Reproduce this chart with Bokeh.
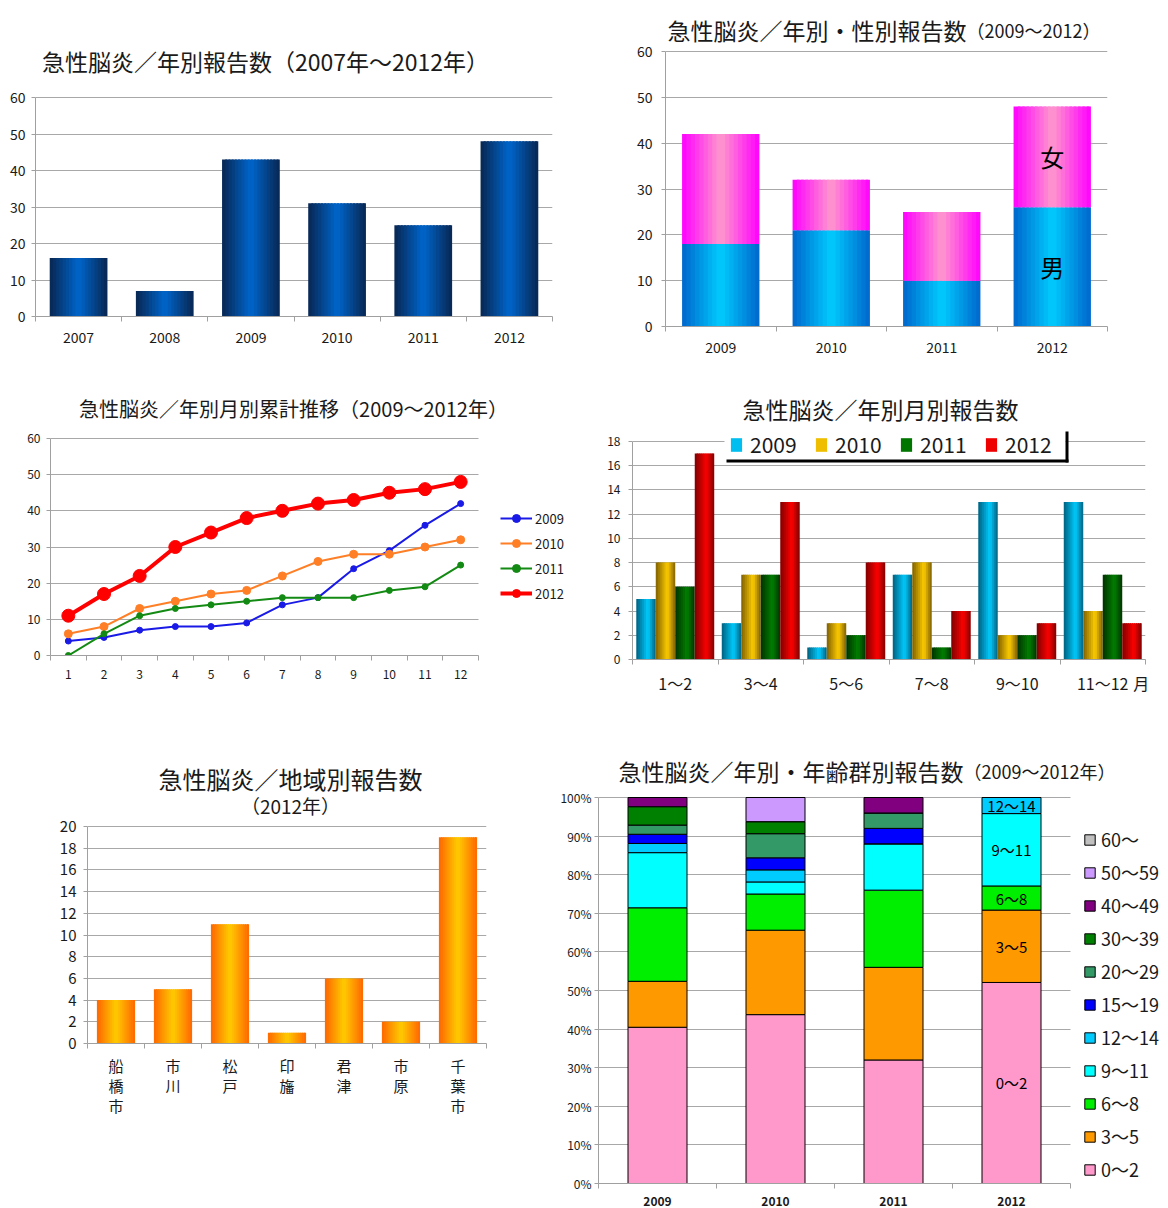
from bokeh.plotting import figure
from bokeh.models import (Range1d, FixedTicker, ColumnDataSource, Label, Legend,
                          LegendItem, BoxAnnotation, PrintfTickFormatter)
from bokeh.layouts import row, column
from bokeh.embed import file_html
from bokeh.resources import INLINE
from bokeh.core.properties import value

FONT = "Noto Sans CJK JP"
TXT = "#1a1a1a"
GRID = "#a8a8a8"
AXIS = "#a0a0a0"

# ---------------- data ----------------
annual_years = ["2007", "2008", "2009", "2010", "2011", "2012"]
annual_counts = [16, 7, 43, 31, 25, 48]

sex_years = ["2009", "2010", "2011", "2012"]
male_counts = [18, 21, 10, 26]
female_counts = [24, 11, 15, 22]

month_labels = ["1", "2", "3", "4", "5", "6", "7", "8", "9", "10", "11", "12"]
cum_2009 = [4, 5, 7, 8, 8, 9, 14, 16, 24, 29, 36, 42]
cum_2010 = [6, 8, 13, 15, 17, 18, 22, 26, 28, 28, 30, 32]
cum_2011 = [0, 6, 11, 13, 14, 15, 16, 16, 16, 18, 19, 25]
cum_2012 = [11, 17, 22, 30, 34, 38, 40, 42, 43, 45, 46, 48]

bimonth_labels = ["1～2", "3～4", "5～6", "7～8", "9～10", "11～12"]
bm_2009 = [5, 3, 1, 7, 13, 13]
bm_2010 = [8, 7, 3, 8, 2, 4]
bm_2011 = [6, 7, 2, 1, 2, 7]
bm_2012 = [17, 13, 8, 4, 3, 3]

region_labels = ["船\n橋\n市", "市\n川", "松\n戸", "印\n旛", "君\n津", "市\n原", "千\n葉\n市"]
region_counts = [4, 5, 11, 1, 6, 2, 19]

age_years = ["2009", "2010", "2011", "2012"]
age_groups = ["0～2", "3～5", "6～8", "9～11", "12～14", "15～19",
              "20～29", "30～39", "40～49", "50～59", "60～"]
age_2009 = [17, 5, 8, 6, 1, 1, 1, 2, 1, 0, 0]
age_2010 = [14, 7, 3, 1, 1, 1, 2, 1, 0, 2, 0]
age_2011 = [8, 6, 5, 3, 0, 1, 1, 0, 1, 0, 0]
age_2012 = [25, 9, 3, 9, 2, 0, 0, 0, 0, 0, 0]
age_colors = ["#ff99cc", "#ff9900", "#00ee00", "#00ffff", "#00ccff", "#0000ff",
              "#339966", "#008000", "#800080", "#cc99ff", "#c0c0c0"]


# ---------------- helpers ----------------
def hex_rgb(h):
    h = h.lstrip("#")
    return tuple(int(h[i:i + 2], 16) for i in (0, 2, 4))


def mix(a, b, t):
    ra, rb = hex_rgb(a), hex_rgb(b)
    return "#%02x%02x%02x" % tuple(round(ra[i] + (rb[i] - ra[i]) * t) for i in range(3))


class Frame:
    """Pixel frame of a figure plus a linear pixel<->data mapping."""
    def __init__(self, px0, px1, pyt, pyb, xmap, ymap):
        self.px0, self.px1, self.pyt, self.pyb = px0, px1, pyt, pyb
        d0, q0, d1, q1 = xmap
        self.xd, self.xp, self.kx = d0, q0, (d1 - d0) / (q1 - q0)
        d0, q0, d1, q1 = ymap
        self.yd, self.yp, self.ky = d0, q0, (d1 - d0) / (q1 - q0)
        self.xr = (self.x(px0), self.x(px1))
        self.yr = (self.y(pyb), self.y(pyt))

    def x(self, px):
        return self.xd + (px - self.xp) * self.kx

    def y(self, py):
        return self.yd + (py - self.yp) * self.ky


def make_fig(fx, fy, w, h, fr):
    p = figure(width=w, height=h, x_range=Range1d(*fr.xr), y_range=Range1d(*fr.yr),
               title=None, output_backend="svg", toolbar_location=None,
               min_border_left=fr.px0 - fx, min_border_right=fx + w - fr.px1,
               min_border_top=fr.pyt - fy, min_border_bottom=fy + h - fr.pyb)
    if "frame_align" in p.properties():
        p.frame_align = False
    p.outline_line_color = None
    p.background_fill_color = "white"
    p.border_fill_color = "white"
    p.xgrid.visible = False
    p.ygrid.grid_line_color = GRID
    p.ygrid.grid_line_width = 1
    return p


def style_axes(p, xticks, xlabels, xfont, xstand, yticks, yfont, ystand,
               ytick_out=4, extra=None):
    xa, ya = p.xaxis[0], p.yaxis[0]
    xb = (xticks[0] - 0.5, xticks[-1] + 0.5)
    major = list(xticks) + (list(extra.keys()) if extra else [])
    xa.ticker = FixedTicker(ticks=major, minor_ticks=[t - 0.5 for t in xticks] + [xticks[-1] + 0.5])
    ov = {t: l for t, l in zip(xticks, xlabels)}
    if extra:
        ov.update(extra)
    xa.major_label_overrides = ov
    xa.bounds = xb
    xa.major_tick_out = 0
    xa.major_tick_in = 0
    xa.minor_tick_out = 5
    xa.minor_tick_in = 0
    xa.major_label_standoff = xstand
    xa.major_label_text_font_size = f"{xfont}px"
    yt = FixedTicker(ticks=yticks)
    ya.ticker = yt
    ya.bounds = (yticks[0], yticks[-1])
    g = p.ygrid[0]
    g.ticker = yt
    if "cross_bounds" in g.properties():
        g.cross_bounds = xb
    ya.major_tick_out = ytick_out
    ya.major_tick_in = 0
    ya.major_label_standoff = ystand
    ya.major_label_text_font_size = f"{yfont}px"
    for ax in (xa, ya):
        ax.axis_line_color = AXIS
        ax.major_tick_line_color = AXIS
        ax.minor_tick_line_color = AXIS
        ax.major_label_text_font = FONT
        ax.major_label_text_color = TXT
    ya.minor_tick_line_color = None


def put_text(p, fr, px, py, text, size, align="center", baseline="middle"):
    p.add_layout(Label(x=fr.x(px), y=fr.y(py), text=text, text_font=FONT,
                       text_font_size=f"{size}px", text_align=align,
                       text_baseline=baseline, text_color=TXT))


def grad_bars(p, xs, tops, width, edge, center, bottoms=None, n=18, peak=0.5):
    """Bars drawn as n vertical strips whose colours run edge -> center -> edge."""
    if bottoms is None:
        bottoms = [0] * len(xs)
    sw = width / n
    rs = []
    for k in range(n):
        pos = (k + 0.5) / n
        t = (peak - pos) / peak if pos < peak else (pos - peak) / (1 - peak)
        col = mix(center, edge, min(1.0, t))
        wk = sw * 1.6 if k < n - 1 else sw
        off = -width / 2 + k * sw + wk / 2
        src = ColumnDataSource(dict(x=[x + off for x in xs], top=list(tops), bottom=list(bottoms)))
        rs.append(p.vbar(x="x", top="top", bottom="bottom", width=wk, source=src,
                         fill_color=col, line_color=None))
    return rs


# ---------------- panel 1 ----------------
f1 = Frame(35, 552, 0, 316, (0.5, 35, 6.5, 552), (0, 316, 60, 97))
p1 = make_fig(0, 0, 598, 370, f1)
x1 = list(range(1, len(annual_years) + 1))
style_axes(p1, x1, annual_years, 14, 10, list(range(0, 61, 10)), 14, 6)
grad_bars(p1, x1, annual_counts, 0.67, "#082652", "#0066cc")
put_text(p1, f1, 265, 60, "急性脳炎／年別報告数（2007年～2012年）", 23)

# ---------------- panel 2 ----------------
f2 = Frame(665, 1107, 0, 326, (0.5, 665, 4.5, 1107), (0, 326, 60, 51))
p2 = make_fig(598, 0, 570, 370, f2)
x2 = list(range(1, len(sex_years) + 1))
style_axes(p2, x2, sex_years, 14, 10, list(range(0, 61, 10)), 14, 9)
tot2 = [m + f for m, f in zip(male_counts, female_counts)]
grad_bars(p2, x2, male_counts, 0.7, "#0066cc", "#00ccff")
grad_bars(p2, x2, tot2, 0.7, "#ff00ff", "#ff99cc", bottoms=male_counts)
i12 = sex_years.index("2012")
p2.text(x=[x2[i12], x2[i12]],
        y=[male_counts[i12] + female_counts[i12] / 2, male_counts[i12] / 2],
        text=["女", "男"], text_font=value(FONT), text_font_size=value("24px"),
        text_align="center", text_baseline="middle", text_color="black")
put_text(p2, f2, 966, 29, "急性脳炎／年別・性別報告数", 23, align="right", baseline="alphabetic")
put_text(p2, f2, 966, 29, "（2009～2012）", 18, align="left", baseline="alphabetic")

# ---------------- panel 3 ----------------
f3 = Frame(50, 598, 370, 655, (0.5, 50, 12.5, 478), (0, 655, 60, 438))
p3 = make_fig(0, 370, 598, 350, f3)
x3 = list(range(1, len(month_labels) + 1))
style_axes(p3, x3, month_labels, 12, 9, list(range(0, 61, 10)), 12, 6)
series3 = [("2009", cum_2009, "#1a1ae6", 2, 6),
           ("2010", cum_2010, "#ff7f27", 2, 8),
           ("2011", cum_2011, "#138a13", 2, 6),
           ("2012", cum_2012, "#ff0000", 4, 13)]
items3 = []
for lab, ys, col, lw, ms in series3:
    src = ColumnDataSource(dict(x=x3, y=ys))
    r_l = p3.line("x", "y", source=src, line_color=col, line_width=lw)
    r_s = p3.scatter("x", "y", source=src, size=ms, fill_color=col, line_color=col)
    items3.append(LegendItem(label=lab, renderers=[r_l, r_s]))
leg3 = Legend(items=items3, location=(450, 52), glyph_width=32, glyph_height=20,
              label_height=20, spacing=5, padding=0, margin=0, label_standoff=3,
              label_text_font=FONT, label_text_font_size="13px", label_text_color=TXT,
              background_fill_alpha=0, border_line_color=None)
p3.add_layout(leg3)
put_text(p3, f3, 293, 408, "急性脳炎／年別月別累計推移（2009～2012年）", 20)

# ---------------- panel 4 ----------------
f4 = Frame(632, 1145, 370, 659, (0.5, 632, 6.5, 1145), (0, 659, 18, 441))
p4 = make_fig(598, 370, 570, 350, f4)
x4 = list(range(1, len(bimonth_labels) + 1))
style_axes(p4, x4, bimonth_labels, 16, 6, list(range(0, 19, 2)), 12, 8,
           extra={6.45: "月"})
bw = 0.228
series4 = [("2009", bm_2009, "#00607f", "#00ccff"),
           ("2010", bm_2010, "#7f6000", "#ffcc00"),
           ("2011", bm_2011, "#003300", "#008000"),
           ("2012", bm_2012, "#7f0000", "#ff0000")]
items4 = []
for j, (lab, ys, edge, center) in enumerate(series4):
    xs = [x + (j - 1.5) * bw for x in x4]
    rs = grad_bars(p4, xs, ys, bw, edge, center, n=10, peak=0.6)
    items4.append(LegendItem(label=lab, renderers=[rs[6]]))
p4.add_layout(BoxAnnotation(left=f4.x(724), right=f4.x(1065), top=f4.y(431), bottom=f4.y(459),
                            fill_color="white", fill_alpha=1, line_color=None, level="annotation"))
p4.add_layout(BoxAnnotation(left=f4.x(726), right=f4.x(1068), top=f4.y(459), bottom=f4.y(462),
                            fill_color="black", fill_alpha=1, line_color=None, level="annotation"))
p4.add_layout(BoxAnnotation(left=f4.x(1065), right=f4.x(1068), top=f4.y(431), bottom=f4.y(462),
                            fill_color="black", fill_alpha=1, line_color=None, level="annotation"))
leg4 = Legend(items=items4, location=(97, 200), orientation="horizontal",
              glyph_width=14, glyph_height=17, label_height=24, label_width=50,
              label_standoff=7, spacing=14, padding=2, margin=0,
              label_text_font=FONT, label_text_font_size="21px", label_text_color=TXT,
              background_fill_alpha=0, border_line_color=None)
p4.add_layout(leg4)
put_text(p4, f4, 880, 408, "急性脳炎／年別月別報告数", 23)

# ---------------- panel 5 ----------------
f5 = Frame(87, 486, 720, 1043, (0.5, 87, 7.5, 486), (0, 1043, 20, 826))
p5 = make_fig(0, 720, 553, 488, f5)
x5 = list(range(1, len(region_labels) + 1))
style_axes(p5, x5, region_labels, 15, 6, list(range(0, 21, 2)), 15, 7)
p5.xaxis[0].major_label_text_line_height = 0.97
grad_bars(p5, x5, region_counts, 0.67, "#ff6600", "#ffcc00")
put_text(p5, f5, 290, 778, "急性脳炎／地域別報告数", 24)
put_text(p5, f5, 290, 805, "（2012年）", 19)

# ---------------- panel 6 ----------------
f6 = Frame(598, 1168, 720, 1183, (0.5, 598, 4.5, 1070), (0, 1183, 100, 797))
p6 = make_fig(553, 720, 615, 488, f6)
x6 = list(range(1, len(age_years) + 1))
style_axes(p6, x6, age_years, 12, 8, list(range(0, 101, 10)), 12, 3)
p6.yaxis[0].formatter = PrintfTickFormatter(format="%d%%")
p6.xaxis[0].major_label_text_font_style = "bold"
year_counts = [age_2009, age_2010, age_2011, age_2012]
shares = [[c * 100.0 / sum(cs) for c in cs] for cs in year_counts]
bottoms = [[sum(s[:g]) for s in shares] for g in range(len(age_groups))]
tops = [[sum(s[:g + 1]) for s in shares] for g in range(len(age_groups))]
items6 = []
for g, (grp, col) in enumerate(zip(age_groups, age_colors)):
    src = ColumnDataSource(dict(x=x6, bottom=bottoms[g], top=tops[g]))
    r = p6.vbar(x="x", bottom="bottom", top="top", width=0.5, source=src,
                fill_color=col, line_color="black", line_width=1)
    items6.append(LegendItem(label=grp, renderers=[r]))
j12 = age_years.index("2012")
lab_x, lab_y, lab_t = [], [], []
for g, grp in enumerate(age_groups):
    if age_2012[g] > 0:
        lab_x.append(x6[j12])
        lab_y.append((bottoms[g][j12] + tops[g][j12]) / 2)
        lab_t.append(grp)
p6.text(x=lab_x, y=lab_y, text=lab_t, text_font=value(FONT), text_font_size=value("15px"),
        text_align="center", text_baseline="middle", text_color="black")
leg6 = Legend(items=items6[::-1], location=(485, 1), glyph_width=13, glyph_height=13,
              label_height=24, spacing=7, padding=0, margin=0, label_standoff=5,
              label_text_font=FONT, label_text_font_size="18px", label_text_color=TXT,
              background_fill_alpha=0, border_line_color=None)
p6.add_layout(leg6)
put_text(p6, f6, 963, 770, "急性脳炎／年別・年齢群別報告数", 23, align="right", baseline="alphabetic")
put_text(p6, f6, 963, 770, "（2009～2012年）", 18, align="left", baseline="alphabetic")

layout = column(row(p1, p2), row(p3, p4), row(p5, p6))
open("out.html", "w").write(file_html(layout, INLINE))
